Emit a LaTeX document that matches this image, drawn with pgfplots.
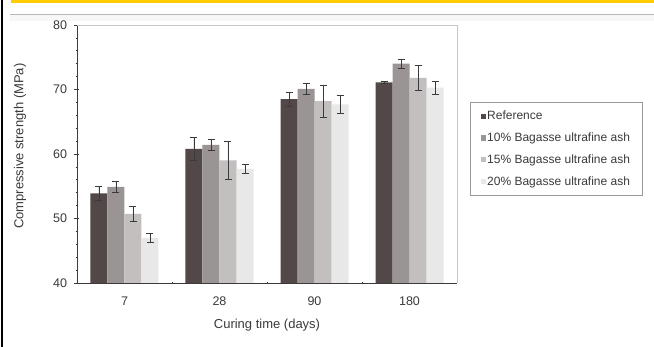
\documentclass[border=0pt]{standalone}
\usepackage{pgfplots}
\pgfplotsset{compat=1.18}
\usepackage{pgfplotstable}
\usepackage{fontspec}
\setmainfont{Liberation Sans}
\definecolor{cref}{HTML}{524848}
\definecolor{cten}{HTML}{9A9494}
\definecolor{cfif}{HTML}{C3BFBF}
\definecolor{ctwe}{HTML}{E8E8E8}
\definecolor{txt}{HTML}{3A3A3A}
\definecolor{gold}{HTML}{FFCC00}

\pgfplotstableread{
x ref referr ten tenerr fif fiferr twe tweerr
0 53.9 1.1 54.9 0.9 50.7 1.1 47.0 0.7
1 60.8 1.8 61.4 0.8 59.0 3.0 57.7 0.7
2 68.5 1.1 70.1 0.9 68.2 2.5 67.7 1.4
3 71.1 0.1 74.0 0.7 71.8 1.9 70.3 1.0
}\datatable

\begin{document}
\begin{tikzpicture}[x=1pt,y=1pt]
\fill[white] (0,0) rectangle (654,347);
\useasboundingbox (0,0) rectangle (654,347);
\fill[gold] (11,344.3) rectangle (654,347);
\draw[black,line width=1.6pt] (2,0) -- (2,347);
\fill[gray!6] (10,326) rectangle (654,333);
\draw[gray!55, line width=0.9pt] (10,333) -- (654,333);
\begin{axis}[
  at={(77pt,64pt)}, anchor=south west, scale only axis,
  width=380pt, height=258pt,
  xmin=-0.5, xmax=3.5, ymin=40, ymax=80,
  ybar=0pt, bar width=17pt,
  axis x line*=bottom, axis y line*=left,
  x axis line style={draw=txt, line width=0.7pt, -},
  y axis line style={draw=txt, line width=0.7pt, -},
  xtick={0,1,2,3}, xticklabels={7,28,90,180},
  minor xtick={0.5,1.5,2.5},
  major x tick style={draw=none},
  minor x tick style={draw=txt, line width=0.6pt},
  minor tick length=2.5pt,
  ytick={40,50,...,80}, minor ytick={42,44,...,78},
  tick align=center,
  major tick length=5pt,
  y tick style={draw=txt, line width=0.6pt},
  /pgf/number format/assume math mode=true,
  ticklabel style={font=\fontsize{12.5}{13}\selectfont, text=txt},
  yticklabel style={xshift=-4pt},
  xticklabel style={yshift=-8pt},
  xlabel={Curing time (days)},
  ylabel={Compressive strength (MPa)},
  label style={font=\fontsize{13}{14}\selectfont, text=txt},
  xlabel style={at={(axis description cs:0.5,-0.163)}, anchor=center},
  ylabel style={at={(axis description cs:-0.15,0.53)}, anchor=center},
  error bars/y dir=both, error bars/y explicit,
  error bars/error bar style={draw=txt, line width=0.8pt},
  error bars/error mark options={draw=txt, line width=0.8pt, mark size=3.5pt, rotate=90},
  legend style={at={(1.034,0.7016)}, anchor=north west,
    draw=gray!80, line width=0.6pt,
    font=\fontsize{12}{13}\selectfont, text=txt,
    row sep=7.5pt, inner xsep=11pt, inner ysep=7pt,
    nodes={inner xsep=1pt}},
  legend cell align=left,
  legend image code/.code={\fill[#1,draw=none] (0pt,-2.5pt) rectangle (5pt,2.7pt);},
  clip=false,
]
\addplot[fill=cref, draw=none] table[x=x, y=ref, y error=referr] {\datatable};
\addlegendentry{Reference}
\addplot[fill=cten, draw=none] table[x=x, y=ten, y error=tenerr] {\datatable};
\addlegendentry{10\% Bagasse ultrafine ash}
\addplot[fill=cfif, draw=none] table[x=x, y=fif, y error=fiferr] {\datatable};
\addlegendentry{15\% Bagasse ultrafine ash}
\addplot[fill=ctwe, draw=none] table[x=x, y=twe, y error=tweerr] {\datatable};
\addlegendentry{20\% Bagasse ultrafine ash}
\draw[gray!45, line width=0.7pt] (rel axis cs:0,1) -- (rel axis cs:1,1) -- (rel axis cs:1,0);
\end{axis}
\end{tikzpicture}
\end{document}
